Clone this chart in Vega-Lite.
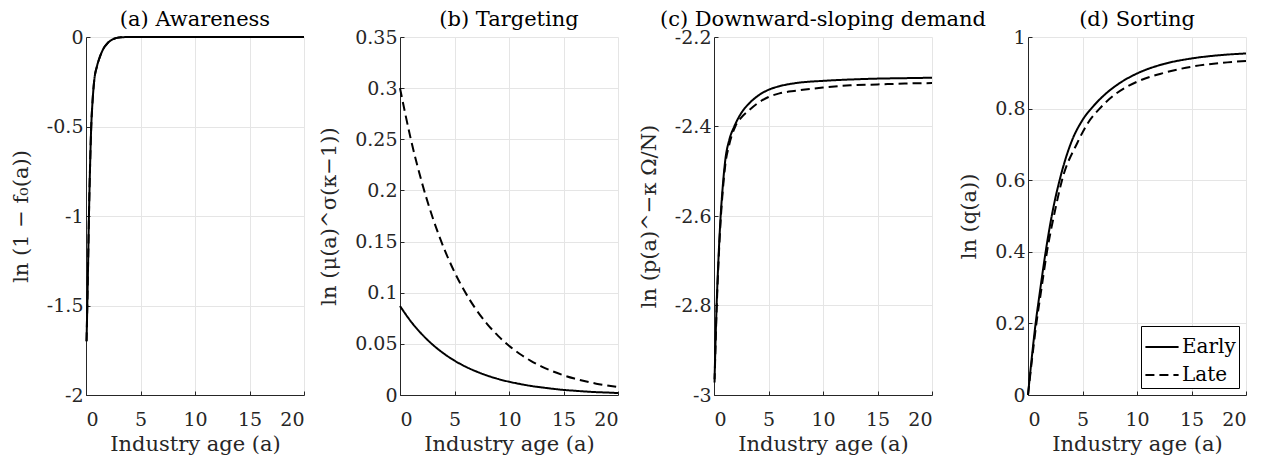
{
  "$schema": "https://vega.github.io/schema/vega-lite/v6.json",
  "background": "white",
  "padding": {"left": 10, "top": 9, "right": 5, "bottom": 5},
  "spacing": 96,
  "bounds": "flush",
  "datasets": {
    "a": [
      {"age": 0.05, "value": -1.70, "cohort": "Early"}, {"age": 0.12, "value": -1.50, "cohort": "Early"}, {"age": 0.2, "value": -1.24, "cohort": "Early"}, {"age": 0.27, "value": -1.00, "cohort": "Early"}, {"age": 0.37, "value": -0.73, "cohort": "Early"}, {"age": 0.48, "value": -0.50, "cohort": "Early"}, {"age": 0.6, "value": -0.36, "cohort": "Early"}, {"age": 0.76, "value": -0.24, "cohort": "Early"}, {"age": 1.0, "value": -0.165, "cohort": "Early"}, {"age": 1.28, "value": -0.11, "cohort": "Early"}, {"age": 1.6, "value": -0.065, "cohort": "Early"}, {"age": 1.97, "value": -0.035, "cohort": "Early"}, {"age": 2.3, "value": -0.018, "cohort": "Early"}, {"age": 2.7, "value": -0.007, "cohort": "Early"}, {"age": 3.2, "value": -0.002, "cohort": "Early"}, {"age": 4, "value": 0, "cohort": "Early"}, {"age": 6, "value": 0, "cohort": "Early"}, {"age": 10, "value": 0, "cohort": "Early"}, {"age": 15, "value": 0, "cohort": "Early"}, {"age": 20, "value": 0, "cohort": "Early"},
      {"age": 0.05, "value": -1.70, "cohort": "Late"}, {"age": 0.12, "value": -1.50, "cohort": "Late"}, {"age": 0.2, "value": -1.24, "cohort": "Late"}, {"age": 0.27, "value": -1.00, "cohort": "Late"}, {"age": 0.37, "value": -0.73, "cohort": "Late"}, {"age": 0.48, "value": -0.50, "cohort": "Late"}, {"age": 0.6, "value": -0.36, "cohort": "Late"}, {"age": 0.76, "value": -0.24, "cohort": "Late"}, {"age": 1.0, "value": -0.165, "cohort": "Late"}, {"age": 1.28, "value": -0.11, "cohort": "Late"}, {"age": 1.6, "value": -0.065, "cohort": "Late"}, {"age": 1.97, "value": -0.035, "cohort": "Late"}, {"age": 2.3, "value": -0.018, "cohort": "Late"}, {"age": 2.7, "value": -0.007, "cohort": "Late"}, {"age": 3.2, "value": -0.002, "cohort": "Late"}, {"age": 4, "value": 0, "cohort": "Late"}, {"age": 6, "value": 0, "cohort": "Late"}, {"age": 10, "value": 0, "cohort": "Late"}, {"age": 15, "value": 0, "cohort": "Late"}, {"age": 20, "value": 0, "cohort": "Late"}
    ],
    "b": [
      {"age": 0, "value": 0.0870, "cohort": "Early"}, {"age": 1, "value": 0.0719, "cohort": "Early"}, {"age": 2, "value": 0.0595, "cohort": "Early"}, {"age": 3, "value": 0.0492, "cohort": "Early"}, {"age": 4, "value": 0.0407, "cohort": "Early"}, {"age": 5, "value": 0.0336, "cohort": "Early"}, {"age": 6, "value": 0.0278, "cohort": "Early"}, {"age": 7, "value": 0.0230, "cohort": "Early"}, {"age": 8, "value": 0.0190, "cohort": "Early"}, {"age": 9, "value": 0.0157, "cohort": "Early"}, {"age": 10, "value": 0.0130, "cohort": "Early"}, {"age": 11, "value": 0.0108, "cohort": "Early"}, {"age": 12, "value": 0.0089, "cohort": "Early"}, {"age": 13, "value": 0.0074, "cohort": "Early"}, {"age": 14, "value": 0.0061, "cohort": "Early"}, {"age": 15, "value": 0.0050, "cohort": "Early"}, {"age": 16, "value": 0.0042, "cohort": "Early"}, {"age": 17, "value": 0.0034, "cohort": "Early"}, {"age": 18, "value": 0.0028, "cohort": "Early"}, {"age": 19, "value": 0.0024, "cohort": "Early"}, {"age": 20, "value": 0.0019, "cohort": "Early"},
      {"age": 0, "value": 0.300, "cohort": "Late"}, {"age": 1, "value": 0.2498, "cohort": "Late"}, {"age": 2, "value": 0.2081, "cohort": "Late"}, {"age": 3, "value": 0.1733, "cohort": "Late"}, {"age": 4, "value": 0.1443, "cohort": "Late"}, {"age": 5, "value": 0.1202, "cohort": "Late"}, {"age": 6, "value": 0.1001, "cohort": "Late"}, {"age": 7, "value": 0.0833, "cohort": "Late"}, {"age": 8, "value": 0.0694, "cohort": "Late"}, {"age": 9, "value": 0.0578, "cohort": "Late"}, {"age": 10, "value": 0.0481, "cohort": "Late"}, {"age": 11, "value": 0.0401, "cohort": "Late"}, {"age": 12, "value": 0.0334, "cohort": "Late"}, {"age": 13, "value": 0.0278, "cohort": "Late"}, {"age": 14, "value": 0.0232, "cohort": "Late"}, {"age": 15, "value": 0.0193, "cohort": "Late"}, {"age": 16, "value": 0.0161, "cohort": "Late"}, {"age": 17, "value": 0.0134, "cohort": "Late"}, {"age": 18, "value": 0.0111, "cohort": "Late"}, {"age": 19, "value": 0.0093, "cohort": "Late"}, {"age": 20, "value": 0.0077, "cohort": "Late"}
    ],
    "c": [
      {"age": 0.05, "value": -2.965, "cohort": "Early"}, {"age": 0.24, "value": -2.80, "cohort": "Early"}, {"age": 0.42, "value": -2.69, "cohort": "Early"}, {"age": 0.61, "value": -2.60, "cohort": "Early"}, {"age": 0.8, "value": -2.535, "cohort": "Early"}, {"age": 1.04, "value": -2.474, "cohort": "Early"}, {"age": 1.4, "value": -2.43, "cohort": "Early"}, {"age": 1.86, "value": -2.40, "cohort": "Early"}, {"age": 2.5, "value": -2.37, "cohort": "Early"}, {"age": 3.24, "value": -2.348, "cohort": "Early"}, {"age": 4, "value": -2.332, "cohort": "Early"}, {"age": 5, "value": -2.318, "cohort": "Early"}, {"age": 6, "value": -2.310, "cohort": "Early"}, {"age": 7.5, "value": -2.303, "cohort": "Early"}, {"age": 10, "value": -2.298, "cohort": "Early"}, {"age": 12.5, "value": -2.295, "cohort": "Early"}, {"age": 15, "value": -2.293, "cohort": "Early"}, {"age": 17.5, "value": -2.292, "cohort": "Early"}, {"age": 20, "value": -2.291, "cohort": "Early"},
      {"age": 0.05, "value": -2.972, "cohort": "Late"}, {"age": 0.24, "value": -2.81, "cohort": "Late"}, {"age": 0.42, "value": -2.70, "cohort": "Late"}, {"age": 0.61, "value": -2.61, "cohort": "Late"}, {"age": 0.8, "value": -2.545, "cohort": "Late"}, {"age": 1.04, "value": -2.485, "cohort": "Late"}, {"age": 1.4, "value": -2.44, "cohort": "Late"}, {"age": 1.95, "value": -2.40, "cohort": "Late"}, {"age": 2.5, "value": -2.38, "cohort": "Late"}, {"age": 3.24, "value": -2.363, "cohort": "Late"}, {"age": 4, "value": -2.348, "cohort": "Late"}, {"age": 5, "value": -2.334, "cohort": "Late"}, {"age": 6, "value": -2.326, "cohort": "Late"}, {"age": 7.5, "value": -2.320, "cohort": "Late"}, {"age": 10, "value": -2.313, "cohort": "Late"}, {"age": 12.5, "value": -2.308, "cohort": "Late"}, {"age": 15, "value": -2.306, "cohort": "Late"}, {"age": 17.5, "value": -2.304, "cohort": "Late"}, {"age": 20, "value": -2.303, "cohort": "Late"}
    ],
    "d": [
      {"age": 0, "value": 0, "cohort": "Early"}, {"age": 0.35, "value": 0.105, "cohort": "Early"}, {"age": 0.7, "value": 0.20, "cohort": "Early"}, {"age": 1.1, "value": 0.29, "cohort": "Early"}, {"age": 1.62, "value": 0.40, "cohort": "Early"}, {"age": 2.29, "value": 0.518, "cohort": "Early"}, {"age": 2.9, "value": 0.60, "cohort": "Early"}, {"age": 3.97, "value": 0.706, "cohort": "Early"}, {"age": 5, "value": 0.768, "cohort": "Early"}, {"age": 6, "value": 0.807, "cohort": "Early"}, {"age": 7, "value": 0.838, "cohort": "Early"}, {"age": 8.5, "value": 0.873, "cohort": "Early"}, {"age": 10, "value": 0.898, "cohort": "Early"}, {"age": 12.5, "value": 0.925, "cohort": "Early"}, {"age": 15, "value": 0.940, "cohort": "Early"}, {"age": 17.5, "value": 0.949, "cohort": "Early"}, {"age": 20, "value": 0.954, "cohort": "Early"},
      {"age": 0, "value": 0, "cohort": "Late"}, {"age": 0.37, "value": 0.10, "cohort": "Late"}, {"age": 0.77, "value": 0.20, "cohort": "Late"}, {"age": 1.2, "value": 0.29, "cohort": "Late"}, {"age": 1.74, "value": 0.40, "cohort": "Late"}, {"age": 2.5, "value": 0.518, "cohort": "Late"}, {"age": 3.12, "value": 0.60, "cohort": "Late"}, {"age": 4.52, "value": 0.704, "cohort": "Late"}, {"age": 5.5, "value": 0.76, "cohort": "Late"}, {"age": 6.57, "value": 0.80, "cohort": "Late"}, {"age": 8, "value": 0.840, "cohort": "Late"}, {"age": 10, "value": 0.875, "cohort": "Late"}, {"age": 12.5, "value": 0.900, "cohort": "Late"}, {"age": 15, "value": 0.917, "cohort": "Late"}, {"age": 17.5, "value": 0.927, "cohort": "Late"}, {"age": 20, "value": 0.933, "cohort": "Late"}
    ]
  },
  "hconcat": [
    {
      "width": 218, "height": 358,
      "title": "(a) Awareness",
      "data": {"name": "a"},
      "mark": {"type": "line", "interpolate": "monotone", "color": "black", "strokeWidth": 2},
      "encoding": {
        "x": {"field": "age", "type": "quantitative", "scale": {"domain": [0, 20], "nice": false}, "axis": {"values": [0, 5, 10, 15, 20], "title": "Industry age (a)"}},
        "y": {"field": "value", "type": "quantitative", "scale": {"domain": [-2, 0], "nice": false, "zero": false}, "axis": {"values": [-2, -1.5, -1, -0.5, 0], "title": "ln (1 − f₀(a))", "labelExpr": "replace(format(datum.value, '.2~f'), '\u2212', '-')"}},
        "strokeDash": {"field": "cohort", "type": "nominal", "scale": {"domain": ["Early", "Late"], "range": [[1, 0], [9, 5]]}, "legend": null}
      }
    },
    {
      "width": 218, "height": 358,
      "title": "(b) Targeting",
      "data": {"name": "b"},
      "mark": {"type": "line", "interpolate": "monotone", "color": "black", "strokeWidth": 2},
      "encoding": {
        "x": {"field": "age", "type": "quantitative", "scale": {"domain": [0, 20], "nice": false}, "axis": {"values": [0, 5, 10, 15, 20], "title": "Industry age (a)"}},
        "y": {"field": "value", "type": "quantitative", "scale": {"domain": [0, 0.35], "nice": false, "zero": false}, "axis": {"values": [0, 0.05, 0.1, 0.15, 0.2, 0.25, 0.3, 0.35], "title": "ln (μ(a)^σ(κ−1))", "labelExpr": "replace(format(datum.value, '.2~f'), '\u2212', '-')"}},
        "strokeDash": {"field": "cohort", "type": "nominal", "scale": {"domain": ["Early", "Late"], "range": [[1, 0], [9, 5]]}, "legend": null}
      }
    },
    {
      "width": 218, "height": 358,
      "title": "(c) Downward-sloping demand",
      "data": {"name": "c"},
      "mark": {"type": "line", "interpolate": "monotone", "color": "black", "strokeWidth": 2},
      "encoding": {
        "x": {"field": "age", "type": "quantitative", "scale": {"domain": [0, 20], "nice": false}, "axis": {"values": [0, 5, 10, 15, 20], "title": "Industry age (a)"}},
        "y": {"field": "value", "type": "quantitative", "scale": {"domain": [-3, -2.2], "nice": false, "zero": false}, "axis": {"values": [-3, -2.8, -2.6, -2.4, -2.2], "title": "ln (p(a)^−κ Ω/N)", "labelExpr": "replace(format(datum.value, '.2~f'), '\u2212', '-')"}},
        "strokeDash": {"field": "cohort", "type": "nominal", "scale": {"domain": ["Early", "Late"], "range": [[1, 0], [9, 5]]}, "legend": null}
      }
    },
    {
      "width": 218, "height": 358,
      "title": "(d) Sorting",
      "data": {"name": "d"},
      "mark": {"type": "line", "interpolate": "monotone", "color": "black", "strokeWidth": 2},
      "encoding": {
        "x": {"field": "age", "type": "quantitative", "scale": {"domain": [0, 20], "nice": false}, "axis": {"values": [0, 5, 10, 15, 20], "title": "Industry age (a)"}},
        "y": {"field": "value", "type": "quantitative", "scale": {"domain": [0, 1], "nice": false, "zero": false}, "axis": {"values": [0, 0.2, 0.4, 0.6, 0.8, 1], "title": "ln (q(a))", "labelExpr": "replace(format(datum.value, '.2~f'), '\u2212', '-')"}},
        "strokeDash": {"field": "cohort", "type": "nominal", "scale": {"domain": ["Early", "Late"], "range": [[1, 0], [9, 5]]},
          "legend": {"orient": "bottom-right", "title": null, "offset": 7, "symbolType": "stroke", "symbolSize": 1100, "symbolStrokeWidth": 2, "symbolStrokeColor": "black", "labelFontSize": 20, "labelFont": "DejaVu Serif", "labelColor": "black", "strokeColor": "black", "fillColor": "white", "padding": 3, "labelOffset": 2, "rowPadding": -4}}
      }
    }
  ],
  "resolve": {"scale": {"strokeDash": "independent"}, "legend": {"strokeDash": "independent"}},
  "config": {
    "font": "DejaVu Serif",
    "view": {"stroke": null},
    "axis": {"labelFont": "DejaVu Serif", "labelFontSize": 19, "titleFont": "DejaVu Serif", "titleFontSize": 21, "titleFontWeight": "normal", "labelColor": "#262626", "titleColor": "#262626", "domainColor": "#262626", "tickColor": "#262626", "gridColor": "#e5e5e5", "tickSize": -4, "grid": true},
    "axisX": {"labelPadding": 19, "titlePadding": 4},
    "axisY": {"labelPadding": 7, "titlePadding": 15},
    "title": {"font": "DejaVu Serif", "fontSize": 21, "fontWeight": "normal", "color": "#000000", "offset": -2}
  }
}
